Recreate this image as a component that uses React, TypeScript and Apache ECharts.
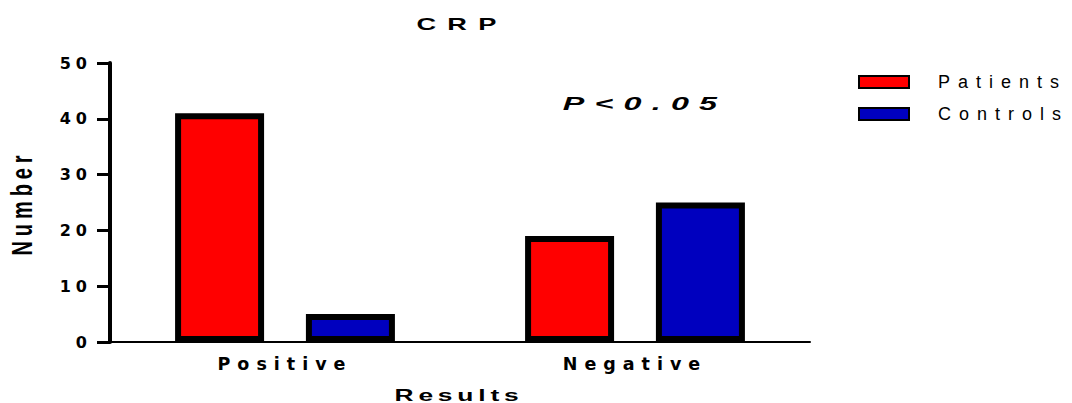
import React, { useEffect, useRef } from "react";
import * as echarts from "echarts";

// Counts of CRP results per group
const categories = ["Positive", "Negative"];
const patients = [41, 19];
const controls = [5, 25];
const yTicks = [0, 10, 20, 30, 40, 50];
const seriesNames = ["Patients", "Controls"];

const SANS = "'Liberation Sans', Arial, Helvetica, sans-serif";
const WIDE = "'DejaVu Sans', Verdana, sans-serif";

// Letter spacing per text group (groups are told apart by font size)
const css = `
#crp-chart text[style*="17px"] { letter-spacing: 7px; }
#crp-chart text[style*="19px"] { letter-spacing: 6px; }
#crp-chart text[style*="16.5px"] { letter-spacing: 3px; }
#crp-chart text[style*="20px"] { letter-spacing: 4.9px; }
#crp-chart text[style*="16px"] { letter-spacing: 5px; }
#crp-chart text[style*="17.5px"] { letter-spacing: 7px; }
#crp-chart text[style*="18px"] { letter-spacing: 8px; }
`;

export default function App() {
  const ref = useRef<HTMLDivElement>(null);

  useEffect(() => {
    document.body.style.margin = "0";
    const chart = echarts.init(ref.current!, undefined, { renderer: "svg" });
    chart.setOption({
      animation: false,
      legend: {
        orient: "vertical",
        left: 858,
        top: 73,
        padding: 0,
        itemWidth: 50,
        itemHeight: 12,
        itemGap: 14,
        icon: "rect",
        textStyle: { fontFamily: SANS, fontSize: 18, color: "#000", padding: [0, 0, 0, 24] },
        data: seriesNames,
      },
      grid: { left: 110, right: 262, top: 63, bottom: 61, containLabel: false, outerBoundsMode: "none" },
      xAxis: {
        type: "category",
        data: categories,
        axisLine: { lineStyle: { color: "#000", width: 2 } },
        axisTick: { alignWithLabel: true, length: 7, lineStyle: { color: "#000", width: 3 } },
        axisLabel: {
          fontFamily: WIDE,
          fontSize: 17.5,
          fontWeight: "bold",
          color: "#000",
          margin: 13,
        },
      },
      yAxis: {
        type: "value",
        min: 0,
        max: 50,
        interval: 10,
        splitLine: { show: false },
        axisLine: { show: true, lineStyle: { color: "#000", width: 4 } },
        axisTick: { show: true, length: 13, lineStyle: { color: "#000", width: 3 } },
        axisLabel: {
          fontFamily: WIDE,
          fontSize: 16,
          fontWeight: "bold",
          color: "#000",
          margin: 18,
          formatter: (v: number) => (yTicks.includes(v) ? String(v) : ""),
        },
      },
      graphic: [
        {
          type: "text",
          x: 462,
          y: 24,
          scaleX: 1.6,
          style: {
            text: "CRP",
            fontFamily: SANS,
            fontSize: 17,
            fontWeight: "bold",
            fill: "#000",
            textAlign: "center",
            textVerticalAlign: "middle",
          },
        },
        {
          type: "text",
          x: 645,
          y: 104,
          scaleX: 1.7,
          style: {
            text: "P<0.05",
            fontFamily: SANS,
            fontSize: 19,
            fontWeight: "bold",
            fontStyle: "italic",
            fill: "#000",
            textAlign: "center",
            textVerticalAlign: "middle",
          },
        },
        {
          type: "text",
          x: 459,
          y: 395,
          scaleX: 1.6,
          style: {
            text: "Results",
            fontFamily: SANS,
            fontSize: 16.5,
            fontWeight: "bold",
            fill: "#000",
            textAlign: "center",
            textVerticalAlign: "middle",
          },
        },
        {
          type: "text",
          x: 21,
          y: 203,
          rotation: Math.PI / 2,
          scaleY: 1.5,
          style: {
            text: "Number",
            fontFamily: SANS,
            fontSize: 20,
            fontWeight: "bold",
            fill: "#000",
            textAlign: "center",
            textVerticalAlign: "middle",
          },
        },
      ],
      series: [
        {
          name: seriesNames[0],
          type: "bar",
          data: patients,
          barWidth: 89,
          barGap: "47%",
          itemStyle: { color: "#ff0000", borderColor: "#000", borderWidth: 6 },
        },
        {
          name: seriesNames[1],
          type: "bar",
          data: controls,
          barWidth: 89,
          barGap: "47%",
          itemStyle: { color: "#0000bf", borderColor: "#000", borderWidth: 6 },
        },
      ],
    });
    return () => chart.dispose();
  }, []);

  return (
    <>
      <style>{css}</style>
      <div id="crp-chart" ref={ref} style={{ width: 1072, height: 403 }} />
    </>
  );
}
